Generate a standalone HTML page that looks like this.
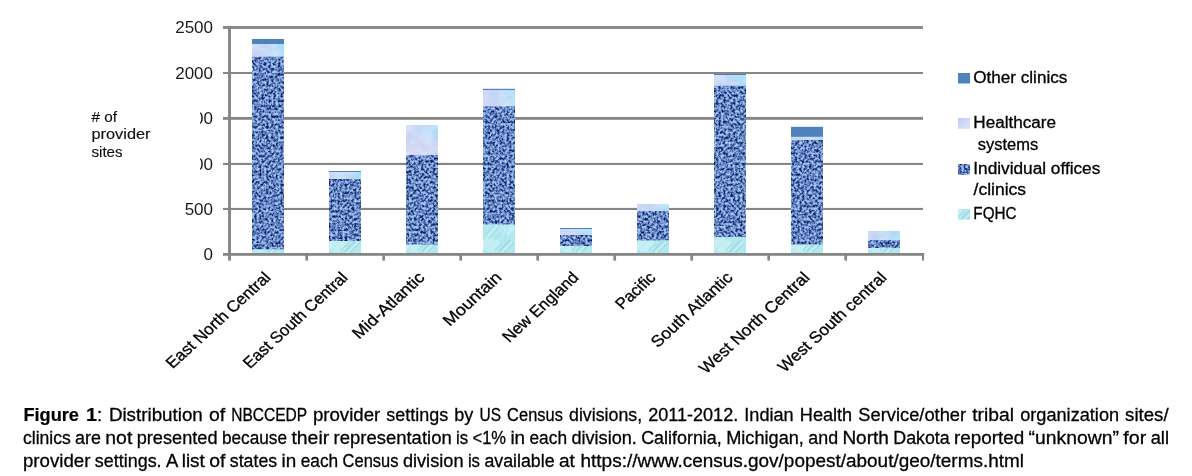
<!DOCTYPE html>
<html lang="en"><head><meta charset="utf-8"><title>Figure 1</title>
<style>
html,body{margin:0;padding:0;background:#fff}
body{width:1192px;height:476px;position:relative;overflow:hidden;font-family:"Liberation Sans",sans-serif;color:#000}
svg text{font-family:"Liberation Sans",sans-serif;fill:#000;stroke:#000;stroke-width:0.3px}
.yl{font-size:17px;stroke:none;fill:#1a1a1a}
.yt{font-size:15.5px;stroke-width:0.15px;fill:#111}
.xl{font-size:15.8px}
.lg{font-size:16px}
.cp{font-size:19.2px;stroke-width:0.3px}
.cp .b{font-weight:bold;stroke-width:0.2px}
</style></head><body>
<svg width="1192" height="476" viewBox="0 0 1192 476" style="position:absolute;left:0;top:0">
<defs>
<filter id="fi" x="0" y="0" width="100%" height="100%" color-interpolation-filters="sRGB">
<feTurbulence type="fractalNoise" baseFrequency="0.42 0.38" numOctaves="2" seed="11" result="n"/>
<feColorMatrix in="n" type="matrix" values="1 0 0 0 0  1 0 0 0 0  1 0 0 0 0  0 0 0 0 1"/>
<feComponentTransfer>
<feFuncR type="table" tableValues="0.05 0.05 0.07 0.20 0.40 0.58 0.66 0.70 0.70"/>
<feFuncG type="table" tableValues="0.08 0.08 0.12 0.30 0.53 0.71 0.79 0.83 0.83"/>
<feFuncB type="table" tableValues="0.28 0.28 0.36 0.56 0.78 0.91 0.96 0.97 0.97"/>
</feComponentTransfer>
</filter>
<filter id="fh" x="0" y="0" width="100%" height="100%" color-interpolation-filters="sRGB">
<feTurbulence type="fractalNoise" baseFrequency="0.09 0.12" numOctaves="2" seed="3" result="n"/>
<feColorMatrix in="n" type="matrix" values="0 0 0 0 1  0 0 0 0 1  0 0 0 0 1  1.6 0 0 0 -0.55"/>
</filter>
<linearGradient id="gh" x1="0" y1="0" x2="1" y2="0">
<stop offset="0" stop-color="#c8d2f3"/><stop offset="0.55" stop-color="#bcd8f6"/><stop offset="1" stop-color="#a6ddf9"/>
</linearGradient>
<linearGradient id="gl" x1="0" y1="0" x2="1" y2="1"><stop offset="0" stop-color="#c3ccf1"/><stop offset="1" stop-color="#d6e7fc"/></linearGradient>
<pattern id="pf" x="252" y="221.3" width="77" height="32" patternUnits="userSpaceOnUse">
<rect width="77" height="32" fill="#b2e8ef"/>
<ellipse cx="8" cy="24" rx="10" ry="7" fill="#c9f3f5" opacity="0.75"/>
<ellipse cx="24" cy="8" rx="9" ry="5" fill="#c4f0f4" opacity="0.6"/>
<g stroke-linecap="round" fill="none">
<path d="M2 14L12 3M6 17L17 4M11 19L21 8" stroke="#8fd0da" stroke-width="1" opacity="0.55"/>
<path d="M16 30L27 19M21 31L30 22M12 29L18 23" stroke="#86cad5" stroke-width="1.1" opacity="0.6"/>
<path d="M4 16L15 4M19 31L29 21M24 14L30 6" stroke="#daf8fa" stroke-width="1.2" opacity="0.8"/>
<path d="M1 30L9 21M22 20L24 4" stroke="#9fdbe3" stroke-width="1" opacity="0.5"/>
</g>
</pattern>
</defs>
<rect x="223" y="26.05" width="700.0" height="2.85" fill="#868686"/>
<rect x="223" y="72.0" width="700.0" height="2.00" fill="#868686"/>
<rect x="223" y="116.95" width="700.0" height="2.85" fill="#868686"/>
<rect x="223" y="162.9" width="700.0" height="2.10" fill="#868686"/>
<rect x="223" y="207.9" width="700.0" height="2.10" fill="#868686"/>
<rect x="252" y="56" width="32" height="194" filter="url(#fi)"/>
<rect x="252" y="39" width="32" height="5.00" fill="#4f81bd"/>
<rect x="252" y="44" width="32" height="12.70" fill="url(#gh)"/>
<linearGradient id="gv252" gradientUnits="userSpaceOnUse" x1="0" y1="49" x2="0" y2="66"><stop offset="0" stop-color="#d3d5f4" stop-opacity="0"/><stop offset="1" stop-color="#d3d5f4" stop-opacity="0.85"/></linearGradient>
<rect x="252" y="44" width="32" height="12.70" fill="url(#gv252)"/>
<rect x="252" y="44" width="32" height="12" filter="url(#fh)" opacity="0.45"/>
<rect x="252" y="249.3" width="32" height="4.00" fill="url(#pf)"/>
<rect x="329" y="179" width="32" height="62" filter="url(#fi)"/>
<rect x="329" y="171" width="32" height="1.00" fill="#4f81bd"/>
<rect x="329" y="172" width="32" height="7.00" fill="url(#gh)"/>
<rect x="329" y="172" width="32" height="7" filter="url(#fh)" opacity="0.45"/>
<rect x="329" y="241" width="32" height="12.30" fill="url(#pf)"/>
<rect x="406" y="155" width="32" height="90" filter="url(#fi)"/>
<rect x="406" y="125" width="32" height="30.00" fill="url(#gh)"/>
<linearGradient id="gv406" gradientUnits="userSpaceOnUse" x1="0" y1="130" x2="0" y2="147"><stop offset="0" stop-color="#d3d5f4" stop-opacity="0"/><stop offset="1" stop-color="#d3d5f4" stop-opacity="0.85"/></linearGradient>
<rect x="406" y="125" width="32" height="30.00" fill="url(#gv406)"/>
<rect x="406" y="125" width="32" height="30" filter="url(#fh)" opacity="0.45"/>
<rect x="406" y="244.5" width="32" height="8.80" fill="url(#pf)"/>
<rect x="483" y="106" width="32" height="119" filter="url(#fi)"/>
<rect x="483" y="88.8" width="32" height="1.20" fill="#4f81bd"/>
<rect x="483" y="90" width="32" height="16.30" fill="url(#gh)"/>
<linearGradient id="gv483" gradientUnits="userSpaceOnUse" x1="0" y1="95" x2="0" y2="112"><stop offset="0" stop-color="#d3d5f4" stop-opacity="0"/><stop offset="1" stop-color="#d3d5f4" stop-opacity="0.85"/></linearGradient>
<rect x="483" y="90" width="32" height="16.30" fill="url(#gv483)"/>
<rect x="483" y="90" width="32" height="16" filter="url(#fh)" opacity="0.45"/>
<rect x="483" y="224.5" width="32" height="28.80" fill="url(#pf)"/>
<rect x="560" y="235" width="32" height="11" filter="url(#fi)"/>
<rect x="560" y="228" width="32" height="1.00" fill="#4f81bd"/>
<rect x="560" y="229" width="32" height="6.00" fill="url(#gh)"/>
<rect x="560" y="229" width="32" height="6" filter="url(#fh)" opacity="0.45"/>
<rect x="560" y="246" width="32" height="7.30" fill="url(#pf)"/>
<rect x="637" y="211" width="32" height="30" filter="url(#fi)"/>
<rect x="637" y="204" width="32" height="7.00" fill="url(#gh)"/>
<rect x="637" y="204" width="32" height="7" filter="url(#fh)" opacity="0.45"/>
<rect x="637" y="240.4" width="32" height="12.90" fill="url(#pf)"/>
<rect x="714" y="85" width="32" height="152" filter="url(#fi)"/>
<rect x="714" y="74" width="32" height="1.00" fill="#4f81bd"/>
<rect x="714" y="75" width="32" height="10.80" fill="url(#gh)"/>
<linearGradient id="gv714" gradientUnits="userSpaceOnUse" x1="0" y1="80" x2="0" y2="97"><stop offset="0" stop-color="#d3d5f4" stop-opacity="0"/><stop offset="1" stop-color="#d3d5f4" stop-opacity="0.85"/></linearGradient>
<rect x="714" y="75" width="32" height="10.80" fill="url(#gv714)"/>
<rect x="714" y="75" width="32" height="10" filter="url(#fh)" opacity="0.45"/>
<rect x="714" y="237" width="32" height="16.30" fill="url(#pf)"/>
<rect x="791" y="140" width="32" height="105" filter="url(#fi)"/>
<rect x="791" y="126.8" width="32" height="10.10" fill="#4f81bd"/>
<rect x="791" y="136.9" width="32" height="3.10" fill="url(#gh)"/>
<rect x="791" y="137" width="32" height="3" filter="url(#fh)" opacity="0.45"/>
<rect x="791" y="244.5" width="32" height="8.80" fill="url(#pf)"/>
<rect x="868" y="240" width="32" height="8" filter="url(#fi)"/>
<rect x="868" y="231" width="32" height="9.00" fill="url(#gh)"/>
<rect x="868" y="231" width="32" height="9" filter="url(#fh)" opacity="0.45"/>
<rect x="868" y="248" width="32" height="5.30" fill="url(#pf)"/>
<rect x="223" y="253.0" width="701.2" height="2.8" fill="#868686"/>
<rect x="228.05" y="26.05" width="2.9" height="234.55" fill="#868686"/>
<rect x="305.35" y="254" width="2.7" height="6.6" fill="#868686"/>
<rect x="382.35" y="254" width="2.7" height="6.6" fill="#868686"/>
<rect x="459.35" y="254" width="2.7" height="6.6" fill="#868686"/>
<rect x="536.35" y="254" width="2.7" height="6.6" fill="#868686"/>
<rect x="613.35" y="254" width="2.7" height="6.6" fill="#868686"/>
<rect x="690.35" y="254" width="2.7" height="6.6" fill="#868686"/>
<rect x="767.35" y="254" width="2.7" height="6.6" fill="#868686"/>
<rect x="844.35" y="254" width="2.7" height="6.6" fill="#868686"/>
<rect x="921.9" y="254" width="2.1" height="6.6" fill="#868686"/>
<text x="213.0" y="33.3" text-anchor="end" class="yl">2500</text>
<text x="213.0" y="78.8" text-anchor="end" class="yl">2000</text>
<text x="213.0" y="124.1" text-anchor="end" class="yl">1500</text>
<text x="213.0" y="169.8" text-anchor="end" class="yl">1000</text>
<text x="213.0" y="214.8" text-anchor="end" class="yl">500</text>
<text x="213.0" y="260.2" text-anchor="end" class="yl">0</text>
<rect x="85" y="100" width="115" height="75" fill="#fff"/>
<text x="91.5" y="121.5" class="yt" textLength="25.5" lengthAdjust="spacingAndGlyphs"># of</text>
<text x="91.5" y="139.2" class="yt" textLength="59" lengthAdjust="spacingAndGlyphs">provider</text>
<text x="91.5" y="156.9" class="yt" textLength="31" lengthAdjust="spacingAndGlyphs">sites</text>
<text transform="translate(271.7 278.5) scale(1.09 1) rotate(-45)" x="-128.4" textLength="128.4" lengthAdjust="spacingAndGlyphs" class="xl">East North Central</text>
<text transform="translate(348.7 278.5) scale(1.09 1) rotate(-45)" x="-128.2" textLength="128.2" lengthAdjust="spacingAndGlyphs" class="xl">East South Central</text>
<text transform="translate(425.7 278.5) scale(1.09 1) rotate(-45)" x="-86.7" textLength="86.7" lengthAdjust="spacingAndGlyphs" class="xl">Mid-Atlantic</text>
<text transform="translate(502.7 278.5) scale(1.09 1) rotate(-45)" x="-68.7" textLength="68.7" lengthAdjust="spacingAndGlyphs" class="xl">Mountain</text>
<text transform="translate(579.7 278.5) scale(1.09 1) rotate(-45)" x="-91.5" textLength="91.5" lengthAdjust="spacingAndGlyphs" class="xl">New England</text>
<text transform="translate(656.7 278.5) scale(1.09 1) rotate(-45)" x="-44.8" textLength="44.8" lengthAdjust="spacingAndGlyphs" class="xl">Pacific</text>
<text transform="translate(733.7 278.5) scale(1.09 1) rotate(-45)" x="-98.5" textLength="98.5" lengthAdjust="spacingAndGlyphs" class="xl">South Atlantic</text>
<text transform="translate(810.7 278.5) scale(1.09 1) rotate(-45)" x="-135.7" textLength="135.7" lengthAdjust="spacingAndGlyphs" class="xl">West North Central</text>
<text transform="translate(887.7 278.5) scale(1.09 1) rotate(-45)" x="-133.6" textLength="133.6" lengthAdjust="spacingAndGlyphs" class="xl">West South central</text>
<rect x="958" y="73" width="12" height="10.5" fill="#4f81bd"/>
<text x="973.3" y="83" class="lg" textLength="94" lengthAdjust="spacingAndGlyphs">Other clinics</text>
<rect x="958" y="117.9" width="12" height="10.9" fill="url(#gl)"/>
<text x="973.3" y="128.4" class="lg" textLength="82.8" lengthAdjust="spacingAndGlyphs">Healthcare</text>
<rect x="958" y="164" width="12" height="11" filter="url(#fi)"/>
<text x="973.3" y="173.7" class="lg" textLength="127" lengthAdjust="spacingAndGlyphs">Individual offices</text>
<rect x="958" y="209" width="12" height="10.8" fill="url(#pf)"/>
<text x="973.3" y="219.3" class="lg" textLength="43.3" lengthAdjust="spacingAndGlyphs">FQHC</text>
<text x="977.7" y="149.5" class="lg" textLength="60.5" lengthAdjust="spacingAndGlyphs">systems</text>
<text x="973.6" y="195" class="lg" textLength="52.5" lengthAdjust="spacingAndGlyphs">/clinics</text>
</svg>
<svg width="1192" height="476" viewBox="0 0 1192 476" style="position:absolute;left:0;top:0"><text y="420.8" class="cp"><tspan x="23.4" textLength="55.6" lengthAdjust="spacingAndGlyphs" class="b">Figure</tspan> <tspan x="85.9" textLength="11.0" lengthAdjust="spacingAndGlyphs" class="b">1</tspan><tspan x="96.9" textLength="5.2" lengthAdjust="spacingAndGlyphs">:</tspan> <tspan x="108.9" textLength="93.9" lengthAdjust="spacingAndGlyphs">Distribution</tspan> <tspan x="208.9" textLength="16.2" lengthAdjust="spacingAndGlyphs">of</tspan> <tspan x="231.2" textLength="75.6" lengthAdjust="spacingAndGlyphs">NBCCEDP</tspan> <tspan x="312.9" textLength="67.4" lengthAdjust="spacingAndGlyphs">provider</tspan> <tspan x="386.3" textLength="61.9" lengthAdjust="spacingAndGlyphs">settings</tspan> <tspan x="454.3" textLength="19.1" lengthAdjust="spacingAndGlyphs">by</tspan> <tspan x="479.5" textLength="21.5" lengthAdjust="spacingAndGlyphs">US</tspan> <tspan x="507.1" textLength="55.8" lengthAdjust="spacingAndGlyphs">Census</tspan> <tspan x="569.0" textLength="73.1" lengthAdjust="spacingAndGlyphs">divisions,</tspan> <tspan x="648.2" textLength="90.0" lengthAdjust="spacingAndGlyphs">2011-2012.</tspan> <tspan x="744.3" textLength="49.4" lengthAdjust="spacingAndGlyphs">Indian</tspan> <tspan x="799.8" textLength="52.4" lengthAdjust="spacingAndGlyphs">Health</tspan> <tspan x="858.3" textLength="107.8" lengthAdjust="spacingAndGlyphs">Service/other</tspan> <tspan x="972.2" textLength="41.8" lengthAdjust="spacingAndGlyphs">tribal</tspan> <tspan x="1020.2" textLength="98.9" lengthAdjust="spacingAndGlyphs">organization</tspan> <tspan x="1125.1" textLength="43.5" lengthAdjust="spacingAndGlyphs">sites/</tspan></text>
<text y="444.0" class="cp"><tspan x="23.0" textLength="47.8" lengthAdjust="spacingAndGlyphs">clinics</tspan> <tspan x="75.1" textLength="25.9" lengthAdjust="spacingAndGlyphs">are</tspan> <tspan x="105.3" textLength="27.0" lengthAdjust="spacingAndGlyphs">not</tspan> <tspan x="136.7" textLength="80.8" lengthAdjust="spacingAndGlyphs">presented</tspan> <tspan x="221.9" textLength="65.1" lengthAdjust="spacingAndGlyphs">because</tspan> <tspan x="291.4" textLength="37.8" lengthAdjust="spacingAndGlyphs">their</tspan> <tspan x="333.5" textLength="118.2" lengthAdjust="spacingAndGlyphs">representation</tspan> <tspan x="456.1" textLength="12.1" lengthAdjust="spacingAndGlyphs">is</tspan> <tspan x="472.5" textLength="33.5" lengthAdjust="spacingAndGlyphs">&lt;1%</tspan> <tspan x="510.4" textLength="14.7" lengthAdjust="spacingAndGlyphs">in</tspan> <tspan x="529.5" textLength="37.5" lengthAdjust="spacingAndGlyphs">each</tspan> <tspan x="571.4" textLength="65.5" lengthAdjust="spacingAndGlyphs">division.</tspan> <tspan x="641.2" textLength="80.6" lengthAdjust="spacingAndGlyphs">California,</tspan> <tspan x="726.2" textLength="77.7" lengthAdjust="spacingAndGlyphs">Michigan,</tspan> <tspan x="808.3" textLength="29.8" lengthAdjust="spacingAndGlyphs">and</tspan> <tspan x="842.4" textLength="46.4" lengthAdjust="spacingAndGlyphs">North</tspan> <tspan x="893.3" textLength="56.4" lengthAdjust="spacingAndGlyphs">Dakota</tspan> <tspan x="954.0" textLength="70.3" lengthAdjust="spacingAndGlyphs">reported</tspan> <tspan x="1028.6" textLength="90.3" lengthAdjust="spacingAndGlyphs">“unknown”</tspan> <tspan x="1123.3" textLength="23.0" lengthAdjust="spacingAndGlyphs">for</tspan> <tspan x="1150.7" textLength="18.3" lengthAdjust="spacingAndGlyphs">all</tspan></text>
<text y="467.2" class="cp"><tspan x="23.0" textLength="67.4" lengthAdjust="spacingAndGlyphs">provider</tspan> <tspan x="94.8" textLength="66.8" lengthAdjust="spacingAndGlyphs">settings.</tspan> <tspan x="166.0" textLength="11.3" lengthAdjust="spacingAndGlyphs">A</tspan> <tspan x="181.7" textLength="23.1" lengthAdjust="spacingAndGlyphs">list</tspan> <tspan x="209.2" textLength="16.2" lengthAdjust="spacingAndGlyphs">of</tspan> <tspan x="229.8" textLength="47.4" lengthAdjust="spacingAndGlyphs">states</tspan> <tspan x="281.6" textLength="14.7" lengthAdjust="spacingAndGlyphs">in</tspan> <tspan x="300.7" textLength="37.5" lengthAdjust="spacingAndGlyphs">each</tspan> <tspan x="342.6" textLength="55.8" lengthAdjust="spacingAndGlyphs">Census</tspan> <tspan x="402.9" textLength="60.6" lengthAdjust="spacingAndGlyphs">division</tspan> <tspan x="467.9" textLength="12.1" lengthAdjust="spacingAndGlyphs">is</tspan> <tspan x="484.4" textLength="70.2" lengthAdjust="spacingAndGlyphs">available</tspan> <tspan x="559.0" textLength="15.9" lengthAdjust="spacingAndGlyphs">at</tspan> <tspan x="580.5" textLength="41.2" lengthAdjust="spacingAndGlyphs">https</tspan><tspan x="621.7" textLength="402.3" lengthAdjust="spacingAndGlyphs">://www.census.gov/popest/about/geo/terms.html</tspan></text></svg>
</body></html>
